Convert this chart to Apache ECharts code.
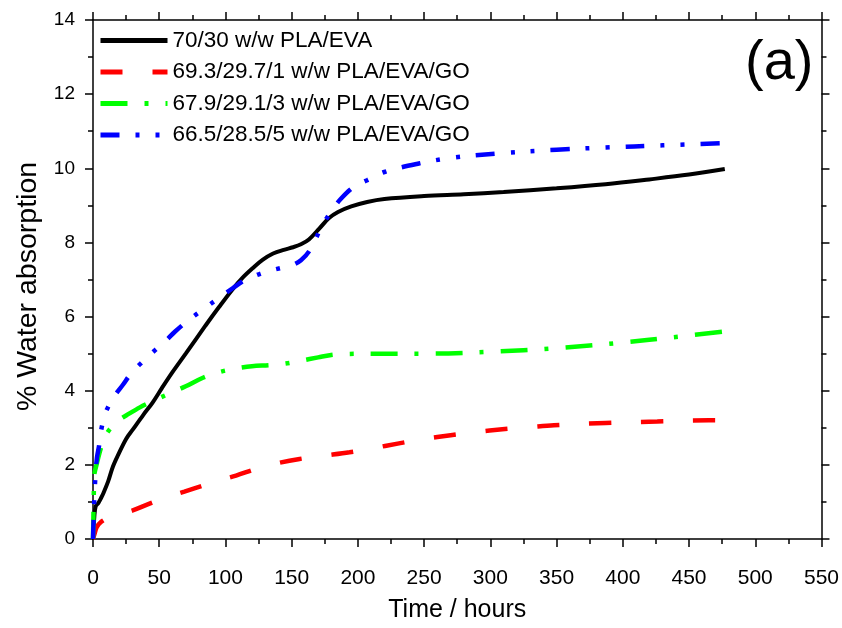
<!DOCTYPE html>
<html>
<head>
<meta charset="utf-8">
<script src="https://cdn.jsdelivr.net/npm/echarts@6/dist/echarts.min.js"></script>
<style>
html,body{margin:0;padding:0;background:#fff;}
#chart{width:842px;height:628px;}
</style>
</head>
<body>
<div id="chart"></div>
<script>
// Series names
const seriesNames = [
  '70/30 w/w PLA/EVA',
  '69.3/29.7/1 w/w PLA/EVA/GO',
  '67.9/29.1/3 w/w PLA/EVA/GO',
  '66.5/28.5/5 w/w PLA/EVA/GO'
];
// [time (hours), % water absorption]
const plaEva = [[0,0],[1,0.6],[2,0.88],[4,0.97],[6,1.1],[8,1.25],[11.5,1.56],[15,1.95],[19,2.27],[25,2.7],[30,2.95],[38,3.35],[45,3.68],[52,4.07],[60,4.5],[70,5.0],[85,5.76],[95,6.25],[105,6.72],[113,7.05],[121,7.32],[128,7.53],[136,7.7],[144,7.8],[151,7.87],[157,7.95],[163,8.08],[171,8.38],[178,8.65],[185,8.82],[195,8.97],[207,9.09],[220,9.17],[250,9.25],[280,9.3],[310,9.36],[350,9.46],[387,9.57],[420,9.7],[450,9.83],[477,9.98]];
const go1 = [[0,0],[1,0.12],[2.8,0.32],[6,0.46],[12,0.58],[20,0.67],[30,0.77],[39,0.9],[45.4,0.99],[55,1.12],[69,1.28],[84,1.45],[95,1.58],[108,1.71],[123,1.89],[140,2.05],[156,2.16],[175,2.25],[193.7,2.34],[210,2.44],[231,2.58],[250,2.7],[270,2.8],[290,2.89],[309,2.96],[330,3.02],[348,3.07],[387,3.13],[426,3.17],[465,3.2],[477,3.2]];
const go3 = [[0,0],[0.3,0.6],[0.6,1.2],[0.9,1.7],[3,2.05],[5.3,2.37],[8,2.68],[11,2.88],[15,3.05],[20,3.22],[25,3.33],[35.4,3.55],[44,3.7],[59.3,3.95],[70,4.12],[83,4.35],[95,4.5],[108.3,4.6],[120,4.66],[133.4,4.69],[145,4.73],[157,4.81],[170,4.9],[181,4.97],[191,4.99],[210,5.0],[250,5.0],[300,5.05],[350,5.15],[400,5.3],[440,5.45],[477,5.6]];
const go5 = [[0,0],[0.5,0.6],[1,1.1],[2,1.8],[3,2.2],[4.5,2.5],[6.5,3.0],[9,3.35],[11.5,3.57],[16,3.85],[22.6,4.16],[28,4.43],[35,4.7],[46.7,5.09],[55,5.35],[61.8,5.59],[72,5.9],[83,6.19],[95,6.5],[105.7,6.77],[113,6.95],[120.8,7.08],[130,7.2],[143,7.32],[150,7.38],[157,7.52],[163.5,7.78],[172.3,8.4],[180,8.85],[187,9.17],[197,9.5],[207,9.68],[220,9.9],[246,10.13],[270,10.28],[305,10.4],[350,10.5],[387,10.56],[430,10.62],[477,10.68]];
const xTicks = {min:0, max:550, interval:50};
const yTicks = {min:0, max:14, interval:2};

const FONT = "'Liberation Sans', Arial, sans-serif";
const axisLine = {show:true, onZero:false, lineStyle:{color:'#000', width:1.5}};
const chart = echarts.init(document.getElementById('chart'), null, {renderer:'canvas'});

function mkSeries(name, data, color, width, dash){
  return {
    name, type:'line', data, showSymbol:false, symbol:'none',
    smooth:0.35,
    lineStyle:{color, width, type:dash, cap:'butt'},
    itemStyle:{color},
    xAxisIndex:0, yAxisIndex:0, z:3
  };
}

chart.setOption({
  animation:false,
  backgroundColor:'#fff',
  grid:{left:93, right:19, top:20, bottom:83, containLabel:false},
  legend:{
    left:98, top:29, orient:'vertical', padding:0, itemGap:8.5,
    itemWidth:67, itemHeight:14,
    itemStyle:{color:'rgba(0,0,0,0)', borderColor:'rgba(0,0,0,0)', borderWidth:0},
    lineStyle:{width:5},
    textStyle:{fontFamily:FONT, fontSize:22.5, color:'#000', padding:0},
    data:seriesNames
  },
  xAxis:[
    {type:'value', position:'bottom', min:xTicks.min, max:xTicks.max, interval:xTicks.interval,
     name:'Time / hours', nameLocation:'middle', nameGap:59,
     nameTextStyle:{fontFamily:FONT, fontSize:25, color:'#000'},
     axisLine, axisTick:{show:true, inside:false, length:8, lineStyle:{color:'#000', width:1.5}},
     minorTick:{show:true, splitNumber:2, length:5, lineStyle:{color:'#000', width:1.5}},
     axisLabel:{fontFamily:FONT, fontSize:21, color:'#000', margin:29},
     splitLine:{show:false}, minorSplitLine:{show:false}},
    {type:'value', position:'top', min:xTicks.min, max:xTicks.max, interval:xTicks.interval,
     axisLine, axisTick:{show:true, inside:false, length:8, lineStyle:{color:'#000', width:1.5}},
     minorTick:{show:true, splitNumber:2, length:5, lineStyle:{color:'#000', width:1.5}},
     axisLabel:{show:false}, splitLine:{show:false}}
  ],
  yAxis:[
    {type:'value', position:'left', min:yTicks.min, max:yTicks.max, interval:yTicks.interval,
     name:'% Water absorption', nameLocation:'middle', nameGap:46, nameRotate:90,
     nameTextStyle:{fontFamily:FONT, fontSize:28.5, color:'#000', padding:[0,14,0,0]},
     axisLine, axisTick:{show:true, inside:false, length:8, lineStyle:{color:'#000', width:1.5}},
     minorTick:{show:true, splitNumber:2, length:5, lineStyle:{color:'#000', width:1.5}},
     axisLabel:{fontFamily:FONT, fontSize:19, color:'#000', margin:18},
     splitLine:{show:false}},
    {type:'value', position:'right', min:yTicks.min, max:yTicks.max, interval:yTicks.interval,
     axisLine, axisTick:{show:true, inside:false, length:8, lineStyle:{color:'#000', width:1.5}},
     minorTick:{show:true, splitNumber:2, length:5, lineStyle:{color:'#000', width:1.5}},
     axisLabel:{show:false}, splitLine:{show:false}}
  ],
  graphic:[{
    type:'text', left:745, top:36, z:10,
    style:{text:'(a)', fontFamily:FONT, fontSize:56, fill:'#000'}
  }],
  series:[
    mkSeries(seriesNames[0], plaEva, '#000000', 4, 'solid'),
    mkSeries(seriesNames[1], go1, '#ff0000', 4.5, [22,30]),
    mkSeries(seriesNames[2], go3, '#00ff00', 4.5, [27,17,4,17]),
    mkSeries(seriesNames[3], go5, '#0000ff', 4.5, [19,16,4,16,4,16])
  ]
});
</script>
</body>
</html>
